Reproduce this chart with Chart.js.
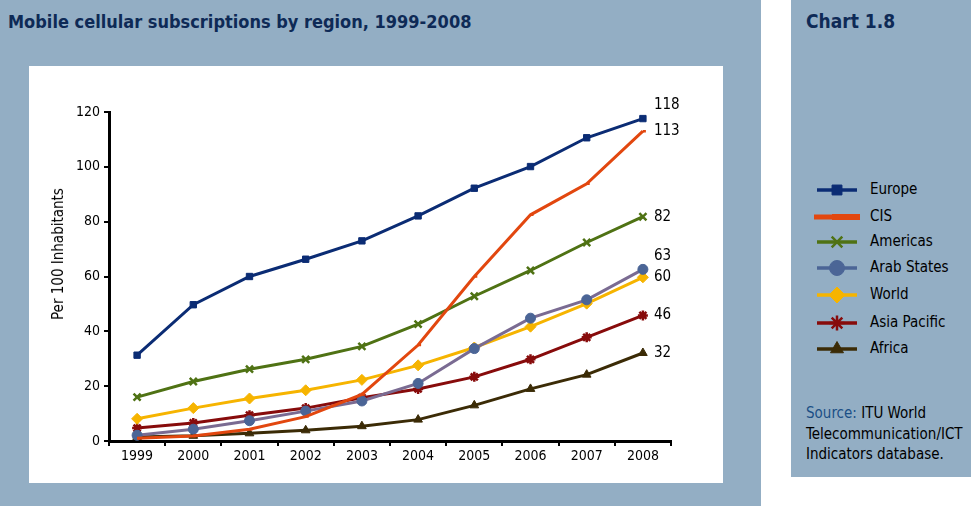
<!DOCTYPE html>
<html>
<head>
<meta charset="utf-8">
<script src="https://cdn.jsdelivr.net/npm/chart.js"></script>
<style>
  body { margin: 0; width: 971px; height: 506px; background: #fff; position: relative; overflow: hidden;
         font-family: 'DejaVu Sans Condensed', 'DejaVu Sans', sans-serif; }
  .panel { position: absolute; background: #93aec4; }
  #title { position: absolute; left: 8px; top: 11px; font-size: 18px; font-weight: bold; color: #0e2a56; white-space: nowrap; }
  #chartno { position: absolute; left: 806px; top: 10px; font-size: 19px; font-weight: bold; color: #0e2a56; }
  #box { position: absolute; left: 29px; top: 66px; width: 694px; height: 417px; background: #fff; }
  #ytitle { position: absolute; left: 58px; top: 254px; transform: translate(-50%, -50%) rotate(-90deg);
            font-size: 15px; color: #000; white-space: nowrap; }
  .leg { position: absolute; left: 812px; height: 20px; }
  .leg canvas { position: absolute; left: 0; top: 0; }
  .leg span { position: absolute; left: 58px; top: 0px; font-size: 15px; color: #000; white-space: nowrap; }
  #source { position: absolute; left: 806px; top: 403px; font-size: 15px; line-height: 20.5px; color: #000; }
  #source b { font-weight: normal; color: #1b4f86; }
</style>
</head>
<body>
<div class="panel" style="left:0;top:0;width:761px;height:506px"></div>
<div class="panel" style="left:791px;top:0;width:180px;height:477px"></div>
<div id="title">Mobile cellular subscriptions by region, 1999-2008</div>
<div id="chartno">Chart 1.8</div>
<div id="box"><canvas id="myChart" width="694" height="417"></canvas></div>
<div id="ytitle">Per 100 Inhabitants</div>
<div id="legend"></div>
<div id="source"><b>Source:</b> ITU World<br>Telecommunication/ICT<br>Indicators database.</div>

<script>
const years = ['1999', '2000', '2001', '2002', '2003', '2004', '2005', '2006', '2007', '2008'];
const regions = ['Europe', 'CIS', 'Americas', 'Arab States', 'World', 'Asia Pacific', 'Africa'];

const europe = [31.3, 49.7, 60.0, 66.3, 73.0, 82.1, 92.2, 100.1, 110.6, 117.6];
const cis = [1.0, 1.8, 4.3, 8.9, 17.0, 35.0, 60.0, 82.5, 93.8, 113.0];
const americas = [16.0, 21.7, 26.2, 29.8, 34.5, 42.6, 52.8, 62.2, 72.4, 81.8];
const arabStates = [2.1, 4.3, 7.4, 10.9, 14.6, 21.0, 33.7, 44.8, 51.5, 62.6];
const world = [8.1, 12.0, 15.5, 18.5, 22.3, 27.6, 34.1, 41.7, 50.1, 59.7];
const asiaPacific = [4.7, 6.6, 9.4, 12.0, 15.8, 19.0, 23.4, 29.8, 37.8, 45.8];
const africa = [1.5, 1.9, 2.8, 3.9, 5.4, 7.8, 13.0, 19.0, 24.2, 32.1];

const endLabels = ['118', '113', '82', '63', '60', '46', '32'];
const yTicks = [0, 20, 40, 60, 80, 100, 120];

const seriesValues = [europe, cis, americas, arabStates, world, asiaPacific, africa];

// look of each series: line colour, marker colour, marker shape
const looks = [
  { line: '#0b2c74', mark: '#0b2c74', style: 'rect', r: 4.5 },
  { line: '#e2470f', mark: '#e2470f', style: 'dash', r: 3 },
  { line: '#4f7214', mark: '#4f7214', style: 'crossRot', r: 5 },
  { line: '#7a6b92', mark: '#4b6596', style: 'circle', r: 5 },
  { line: '#f6b400', mark: '#f6b400', style: 'rectRot', r: 5.5 },
  { line: '#870b0b', mark: '#870b0b', style: 'star', r: 5 },
  { line: '#3b2b06', mark: '#3b2b06', style: 'triangle', r: 5 }
];
const labelShift = [-13, 0, 0, -13, 0, 0, 0];

const datasets = regions.map((name, i) => ({
  label: name,
  data: seriesValues[i],
  borderColor: looks[i].line,
  backgroundColor: looks[i].mark,
  pointBorderColor: looks[i].mark,
  pointBackgroundColor: looks[i].mark,
  pointStyle: looks[i].style,
  pointRadius: looks[i].r,
  pointBorderWidth: (looks[i].style === 'crossRot' || looks[i].style === 'star' || looks[i].style === 'dash') ? 2.5 : 1,
  borderWidth: 3,
  tension: 0,
  order: i
}));

// value labels at the end of each line
const endLabelPlugin = {
  id: 'endLabels',
  afterDatasetsDraw(chart) {
    const ctx = chart.ctx;
    ctx.save();
    ctx.font = '15px "DejaVu Sans Condensed", "DejaVu Sans", sans-serif';
    ctx.fillStyle = '#000';
    ctx.textAlign = 'left';
    ctx.textBaseline = 'middle';
    chart.data.datasets.forEach((ds, i) => {
      const meta = chart.getDatasetMeta(i);
      const pt = meta.data[meta.data.length - 1];
      ctx.fillText(endLabels[i], pt.x + 11, pt.y + labelShift[i]);
    });
    ctx.restore();
  }
};

const canvas = document.getElementById('myChart');
const ctx = canvas.getContext('2d');

const chart = new Chart(ctx, {
  type: 'line',
  data: { labels: years, datasets: datasets },
  options: {
    responsive: false,
    animation: false,
    devicePixelRatio: 1,
    layout: { padding: { left: 0, top: 46, right: 52, bottom: 0 } },
    plugins: { legend: { display: false }, tooltip: { enabled: false } },
    scales: {
      x: {
        offset: true,
        grid: { offset: true, drawOnChartArea: false, drawTicks: true, tickLength: 5, color: '#000', lineWidth: 2 },
        border: { color: '#000', width: 3 },
        ticks: { color: '#000', font: { family: '"DejaVu Sans Condensed", "DejaVu Sans", sans-serif', size: 14 }, padding: 2, maxRotation: 0 },
        afterFit(s) { s.height = 42; }
      },
      y: {
        min: 0,
        max: 120,
        afterBuildTicks(s) { s.ticks = yTicks.map(v => ({ value: v })); },
        grid: { drawOnChartArea: false, drawTicks: true, tickLength: 5, color: '#000', lineWidth: 2 },
        border: { color: '#000', width: 3 },
        ticks: { color: '#000', font: { family: '"DejaVu Sans Condensed", "DejaVu Sans", sans-serif', size: 14 }, padding: 4 },
        afterFit(s) { s.width = 80; }
      }
    }
  },
  plugins: [endLabelPlugin]
});

// legend in the right panel
const legendTops = [180, 207, 232, 258, 285, 313, 339];
const legendBox = document.getElementById('legend');
regions.forEach((name, i) => {
  const item = document.createElement('div');
  item.className = 'leg';
  item.style.top = legendTops[i] + 'px';
  const c = document.createElement('canvas');
  c.width = 50; c.height = 20;
  const span = document.createElement('span');
  span.textContent = name;
  item.appendChild(c);
  item.appendChild(span);
  legendBox.appendChild(item);

  const g = c.getContext('2d');
  const lk = looks[i];
  g.strokeStyle = i === 3 ? lk.mark : lk.line;
  g.lineWidth = i === 1 ? 5 : 3.5;
  g.beginPath();
  g.moveTo(i === 1 ? 2 : 5, 10);
  g.lineTo(i === 1 ? 48 : 45, 10);
  g.stroke();
  if (i === 1) {
    g.fillStyle = lk.mark;
    g.fillRect(20, 7, 28, 6);
    return;
  }
  g.fillStyle = lk.mark;
  g.strokeStyle = lk.mark;
  g.lineWidth = (lk.style === 'crossRot' || lk.style === 'star') ? 2.5 : 1;
  const opts = { pointStyle: lk.style, radius: lk.r + 2.5, rotation: 0, borderWidth: g.lineWidth };
  if (Chart.helpers && Chart.helpers.drawPoint) {
    Chart.helpers.drawPoint(g, opts, 25, 10);
  }
});
</script>
</body>
</html>
